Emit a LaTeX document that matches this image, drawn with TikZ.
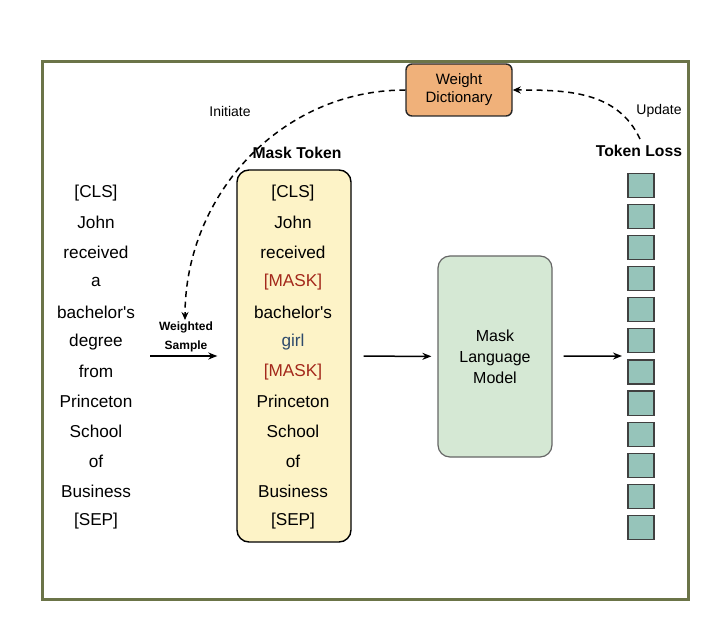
\documentclass[tikz,border=0pt]{standalone}
\usepackage{fontspec}
\setmainfont{Liberation Sans}
\usetikzlibrary{arrows.meta}
\definecolor{framegreen}{HTML}{6B7448}
\definecolor{dictorange}{HTML}{F0B17A}
\definecolor{tokyellow}{HTML}{FDF3C7}
\definecolor{mlmgreen}{HTML}{D5E8D4}
\definecolor{lossteal}{HTML}{96C4BA}
\definecolor{maskred}{HTML}{A3281B}
\definecolor{girlblue}{HTML}{2E4A6B}
\tikzset{
  word/.style={font=\fontsize{17.2}{19}\selectfont,inner sep=0pt},
  tokbox/.style={draw=black,line width=1.4pt,fill=tokyellow,rounded corners=12pt,
                 minimum width=114pt,minimum height=372pt},
  mlmbox/.style={draw=black!60,line width=1.2pt,fill=mlmgreen,rounded corners=12pt,
                 minimum width=114pt,minimum height=201pt,align=center,
                 font=\fontsize{16}{21}\selectfont},
  dictbox/.style={draw=black!85,line width=1.4pt,fill=dictorange,rounded corners=6pt,
                  minimum width=106pt,minimum height=52pt,align=center,
                  font=\fontsize{15}{18}\selectfont},
  lossq/.style={draw=black!75,line width=1.2pt,fill=lossteal,minimum width=26pt,
                minimum height=24pt,inner sep=0pt},
  flow/.style={-{Stealth[length=9pt,width=7pt]},line width=1.5pt},
  loop/.style={-{Stealth[length=8pt,width=7pt]},line width=1.5pt,dash pattern=on 6pt off 4.5pt},
  small/.style={font=\fontsize{14}{16}\selectfont},
  title/.style={font=\fontsize{15.7}{18}\selectfont\bfseries},
}

\begin{document}
\begin{tikzpicture}[x=1pt,y=-1pt]
  \useasboundingbox (0,0) rectangle (726,628);
  % outer frame
  \draw[framegreen,line width=3pt] (42,62) rectangle (688,599);

  % left: input sentence
  \foreach \w [count=\i from 0] in {{[CLS]},John,received,a,{bachelor\textquotesingle s},degree,from,Princeton,School,of,Business,{[SEP]}}{
    \node[word] (in\i) at (96,193+29.8*\i) {\w};
  }

  % middle: masked sentence
  \node[tokbox] (mt) at (294,356) {};
  \node[title,anchor=south] (mttitle) at (297,162) {Mask Token};
  \foreach \w/\c [count=\i from 0] in {{[CLS]}/black,John/black,received/black,{[MASK]}/maskred,
      {bachelor\textquotesingle s}/black,girl/girlblue,{[MASK]}/maskred,Princeton/black,School/black,of/black,
      Business/black,{[SEP]}/black}{
    \node[word,text=\c] (mw\i) at (293,193+29.8*\i) {\w};
  }

  \node[mlmbox] (mlm) at (495,356.5) {Mask\\Language\\Model};
  \node[dictbox] (wd) at (459,90) {Weight\\Dictionary};

  % right: per-token loss
  \node[title,anchor=south] (tl) at (639,160) {Token Loss};
  \foreach \k in {0,...,11}{
    \node[lossq] (lq\k) at (641,185.4+31.1*\k) {};
  }

  % weighted sample arrow
  \coordinate (wsL) at (150,356);
  \node[font=\fontsize{12}{18.5}\selectfont\bfseries,align=center] (ws) at (186,337) {Weighted\\Sample};
  \draw[flow,shorten >=19pt] (wsL) -- (mt);
  \draw[flow,shorten <=12pt,shorten >=6pt] (mt) -- (mlm);
  \coordinate (lossin) at (622,356);
  \draw[flow,shorten <=11pt] (mlm) -- (lossin);

  % feedback loop
  \coordinate (initend) at (185,320);
  \coordinate (updstart) at (640,139);
  \draw[loop] (wd.west) to[out=180,in=90] (initend);
  \draw[loop] (updstart) to[out=115,in=0] (wd.east);
  \node[small] (init) at (230,111) {Initiate};
  \node[small] (upd) at (659,111) {Update};
\end{tikzpicture}
\end{document}
